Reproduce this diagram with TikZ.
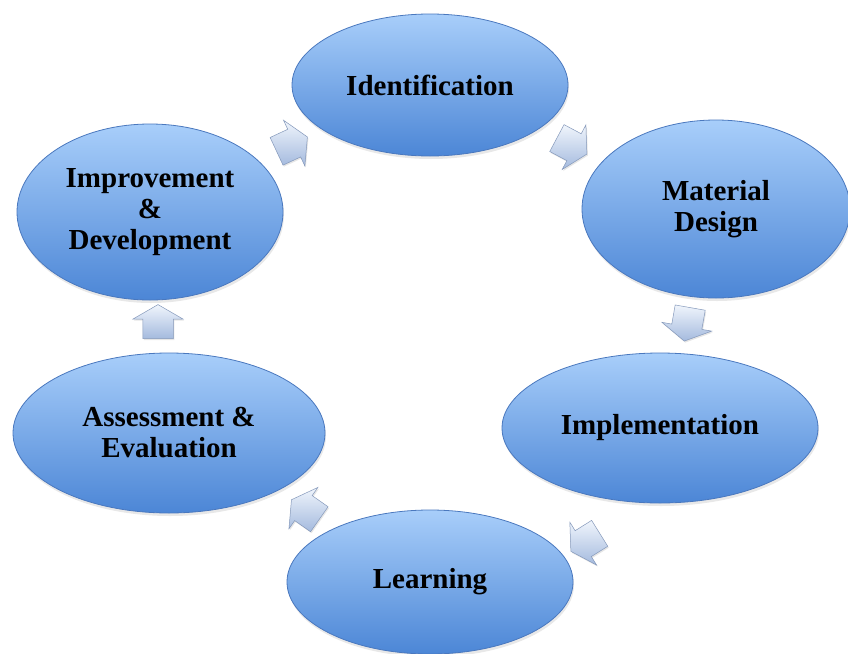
\documentclass[tikz,border=0pt]{standalone}
\usepackage{fontspec}
\setmainfont{Liberation Serif}
\usetikzlibrary{shapes.geometric,shapes.arrows,shadows}

\definecolor{ovaltop}{RGB}{168,206,250}
\definecolor{ovalbot}{RGB}{76,134,214}
\definecolor{ovalrim}{RGB}{74,120,190}
\definecolor{arrtop}{RGB}{240,245,252}
\definecolor{arrbot}{RGB}{164,186,222}
\definecolor{arrrim}{RGB}{132,152,186}

\tikzset{
  stage/.style={ellipse, inner sep=0pt, draw=ovalrim, line width=0.8pt,
    top color=ovaltop, bottom color=ovalbot, align=center,
    font=\bfseries\fontsize{29}{31}\selectfont,
    drop shadow={opacity=0.18, shadow xshift=1pt, shadow yshift=-3pt}},
  cyclearrow/.style={single arrow, inner xsep=8pt, inner ysep=15pt, minimum height=34pt,
    single arrow head extend=10pt, single arrow tip angle=120,
    draw=arrrim, line width=0.5pt, top color=arrtop, bottom color=arrbot,
    drop shadow={opacity=0.2, shadow xshift=1pt, shadow yshift=-1.5pt}}
}

\begin{document}
\begin{tikzpicture}[x=1pt,y=-1pt]
\useasboundingbox (0,0) rectangle (848,653);

%Shape: Ellipse [stages]
\node[stage, minimum width=276pt, minimum height=142pt] (ident) at (430,85) {Identification};
\node[stage, minimum width=268pt, minimum height=178pt] (matdes) at (716,209) {Material\\Design};
\node[stage, minimum width=316pt, minimum height=150pt] (implem) at (660,428) {Implementation};
\node[stage, minimum width=286pt, minimum height=144pt] (learn) at (430,582) {Learning};
\node[stage, minimum width=312pt, minimum height=160pt] (assess) at (169,433) {Assessment \&\\Evaluation};
\node[stage, minimum width=266pt, minimum height=176pt] (improv) at (150,212) {Improvement\\\&\\Development};

%Shape: Right Arrow [between stages]
\node[cyclearrow, rotate=25] (arr1) at (288,146) {};
\node[cyclearrow, rotate=-28] (arr2) at (568,144) {};
\node[cyclearrow, rotate=-100] (arr3) at (688,320) {};
\node[cyclearrow, rotate=212] (arr4) at (589,540) {};
\node[cyclearrow, rotate=145] (arr5) at (309,512) {};
\node[cyclearrow, rotate=90] (arr6) at (158,326) {};

\end{tikzpicture}
\end{document}
